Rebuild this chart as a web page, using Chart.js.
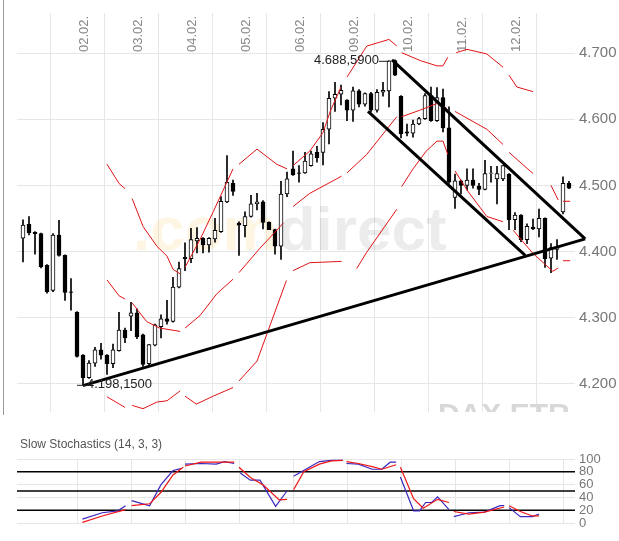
<!DOCTYPE html>
<html><head><meta charset="utf-8">
<script src="https://cdn.jsdelivr.net/npm/chart.js@4.4.1/dist/chart.umd.min.js"></script>
<style>
body{margin:0;background:#fff;width:619px;height:541px;overflow:hidden;font-family:"Liberation Sans",Arial,sans-serif}
#main{position:absolute;left:0;top:0}
#stoch{position:absolute;left:0;top:430px}
</style></head><body>
<canvas id="main" width="619" height="425"></canvas>
<canvas id="stoch" width="619" height="111"></canvas>
<script>
const dates = ['02.02.','03.02.','04.02.','05.02.','06.02.','09.02.','10.02.','11.02.','12.02.'];
const dateIdx = [9,18,27,36,45,54,63,72,81];
const priceTicks = [4200,4300,4400,4500,4600,4700];
const stochTicks = [0,20,40,60,80,100];
const stochLevels = [80,50,20];
const opens  = [4420,4441,4429,4427,4379,4341,4425,4394,4339,4308,4243,4209,4231,4251,4243,4230,4250,4281,4302,4307,4274,4230,4258,4286,4298,4294,4346,4391,4389,4416,4420,4410,4419,4430,4475,4503,4443,4439,4453,4472,4475,4444,4433,4408,4487,4525,4519,4519,4530,4550,4550,4585,4632,4638,4629,4614,4643,4623,4639,4614,4641,4643,4689,4635,4581,4579,4593,4601,4636,4598,4633,4587,4482,4507,4500,4508,4499,4494,4518,4510,4510,4517,4448,4455,4418,4437,4434,4450,4390,4403,4460,4503];
const highs  = [4448,4453,4430,4428,4380,4427,4447,4395,4359,4309,4244,4235,4255,4261,4244,4260,4308,4284,4323,4313,4275,4259,4290,4304,4326,4361,4384,4413,4435,4436,4421,4421,4450,4483,4545,4508,4445,4460,4485,4488,4477,4445,4434,4506,4520,4552,4530,4550,4552,4559,4595,4642,4656,4652,4630,4649,4645,4640,4641,4645,4656,4688.59,4690,4636,4593,4599,4603,4639,4649,4648,4646,4619,4517,4508,4525,4525,4503,4538,4529,4529,4530,4518,4459,4456,4442,4449,4464,4451,4412,4418,4513,4506];
const lows   = [4384,4425,4396,4375,4337,4339,4393,4326,4311,4240,4198.15,4208,4226,4237,4214,4224,4249,4262,4280,4268,4226,4228,4257,4269,4290,4293,4345,4371,4383,4398,4398,4399,4414,4429,4474,4485,4394,4422,4452,4463,4434,4433,4396,4388,4483,4515,4505,4518,4529,4535,4531,4563,4612,4622,4598,4597,4619,4620,4611,4611,4635,4619,4666,4572,4575,4573,4592,4600,4597,4597,4581,4503,4465,4487,4493,4496,4486,4493,4505,4472,4507,4433,4433,4415,4412,4433,4422,4376,4368,4388,4457,4495];
const closes = [4440,4428,4427,4377,4339,4425,4394,4338,4338,4241,4209,4231,4251,4243,4230,4251,4281,4269,4307,4271,4229,4259,4289,4298,4294,4346,4374,4389,4418,4420,4410,4420,4432,4476,4505,4491,4440,4453,4472,4475,4444,4433,4408,4487,4510,4516,4518,4537,4548,4542,4585,4632,4638,4644,4614,4643,4623,4639,4614,4641,4644,4688.59,4667,4578,4579,4593,4601,4636,4598,4633,4587,4505,4507,4500,4508,4500,4494,4518,4519,4518,4530,4448,4455,4418,4438,4434,4450,4389,4406,4407,4503,4496];
// Bollinger bands as [index, value], null = break between trading days
const bbUpper = [[14,4532],[16,4503],[17,4495],null,[18.2,4480],[20,4438],[22.3,4408],[24,4393],[25,4373],[26.2,4366],null,[27,4376],[29.5,4418],[31.7,4460],[35,4525],null,[36,4532],[39,4555],[42.3,4532],[44,4525],null,[45,4530],[47.8,4552],[50,4580],[51.2,4612],[53,4649],null,[54,4664],[57.3,4711],[61,4721],[62.3,4711],null,[63.1,4701],[66.2,4689],[69,4681],[70,4681],[70.8,4694],null,[72.2,4701],[74,4706],[77.3,4699],[80,4679],null,[81,4667],[82.3,4649],[85,4642]];
const bbMiddle = [[14,4357],[16,4333],[17,4328],null,[18.2,4322],[20.6,4294],[22.8,4284],[26.2,4279],null,[27,4284],[29.5,4303],[32.3,4336],[35,4358],null,[36,4368],[39.5,4405],[43.4,4443],null,[45,4468],[47.8,4488],[53.1,4514],null,[54,4519],[57.3,4547],[62.3,4604],null,[63.1,4604],[66.2,4614],[69,4624],[70.6,4617],null,[72,4612],[77.3,4585],[80,4562],null,[81,4550],[85,4518],null,[88,4500],[89.2,4478],null,[90,4476],[91.2,4476]];
const bbLower = [[14,4180],[17,4164],null,[18.2,4167],[20,4162],[22.3,4172],[24,4174],[26.2,4189],null,[27,4181],[28.9,4169],[31.7,4181],[35,4194],null,[36,4204],[39,4234],[43.9,4356],null,[45,4371],[47.8,4383],[53.1,4385],null,[55.6,4374],[57.3,4399],[62.3,4464],null,[63.1,4498],[65,4525],[67.2,4552],[69,4567],[70,4567],[70.8,4547],null,[72,4522],[74,4493],[77.3,4453],[80,4445],null,[81.7,4432],[85,4397],[88.3,4370],[89.2,4375],null,[90,4386],[91.2,4386]];
const trendSupport = [[10,4197],[93.7,4419]];
const channelTop = [[61.5,4690],[93.7,4419]];
const channelBottom = [[57.5,4612],[83.7,4394]];
const stochK = [[9.9,6],[13.2,16],[15.8,19],[17.1,27],null,[18.1,35],[21.1,27],[23,60],[25,82],[26.3,85],null,[27,92],[29.7,93],[32.2,92],[33.6,96],[35.2,93],null,[36.2,78],[37.9,67],[39.5,67],[42.1,26],[44,50],null,[45.1,73],[47.5,86],[49.4,96],[51.4,98],[53.3,98],null,[53.9,93],[55.9,92],[58.2,84],[59.8,84],[61.2,95],[62.2,95],null,[62.9,72],[65.1,19],[66.1,19],[67.1,32],[68.1,32],[69.1,41],[71,21],null,[71.8,10],[74.3,16],[76.9,17],[79.5,27],[80.2,27],null,[81,24],[82.9,10],[84.9,10],[86,14]];
const stochD = [[9.9,1],[13.2,11],[17.1,21],null,[18.1,27],[21.1,30],[23,48],[25,75],[26.7,87],null,[27,89],[29.7,95],[32.2,95],[35.2,95],null,[36,87],[37.9,71],[40.1,59],[42.7,36],[44,37],null,[45.1,52],[46.8,80],[49.4,92],[51.4,97],[53.3,98],null,[53.9,96],[55.9,93],[58.2,88],[59.8,84],[62.2,91],null,[62.9,87],[65.1,38],[66.7,23],[69.1,37],[71,32],null,[71.8,18],[74.3,14],[76.9,17],[80.2,25],null,[81,27],[82.9,18],[84.9,11],[86,11]];
const markHigh = {idx:61, value:4688.59, text:'4.688,5900'};
const markLow = {idx:10, value:4198.15, text:'4.198,1500'};

const pts = a => a.map(p => p ? {x:p[0], y:p[1]} : {x:NaN, y:null});
const fmt = v => String(v).replace(/\B(?=(\d{3})+(?!\d))/g,'.');
const RED = 'rgb(225,20,20)';
const GRID = '#e6e6e6';

const bodies = opens.map((o,i)=>({x:i, y:[o, closes[i]===o? o+1 : closes[i]]}));
const wicks = highs.map((h,i)=>({x:i, y:[lows[i], h]}));
const lineDs = (data,color,w,extra) => Object.assign({type:'line', data:pts(data), borderColor:color, borderWidth:w, pointRadius:0, spanGaps:false, tension:0}, extra||{});

const decor = {
  id:'decor',
  beforeDatasetsDraw(c){
    const {ctx, chartArea:a} = c;
    ctx.save();
    ctx.beginPath(); ctx.rect(a.left,a.top,a.right-a.left,a.bottom-a.top); ctx.clip();
    ctx.font = 'bold 62px "Liberation Sans", Arial, sans-serif';
    ctx.textBaseline = 'alphabetic';
    ctx.fillStyle = 'rgba(250,200,90,0.17)';
    ctx.fillText('.com', 133, 250);
    const w = ctx.measureText('.com').width;
    ctx.fillStyle = 'rgba(0,0,0,0.075)';
    ctx.fillText('direct', 133+w, 250);
    ctx.font = 'bold 30px "Liberation Sans", Arial, sans-serif';
    ctx.fillStyle = '#d8d8d8';
    ctx.fillText('DAX ETR', 438, 424);
    ctx.restore();
    ctx.save();
    ctx.font = '13px "Liberation Sans", Arial, sans-serif';
    ctx.fillStyle = '#888';
    const xs = c.scales.x;
    dates.forEach((d,k)=>{
      const px = xs.getPixelForValue(dateIdx[k]);
      ctx.save(); ctx.translate(px+7, 52); ctx.rotate(-Math.PI/2);
      ctx.textAlign='left'; ctx.textBaseline='middle'; ctx.fillText(d,0,0); ctx.restore();
    });
    ctx.restore();
  },
  afterDatasetsDraw(c){
    const {ctx} = c; const xs=c.scales.x, ys=c.scales.y;
    ctx.save();
    ctx.font = '13px "Liberation Sans", Arial, sans-serif';
    ctx.fillStyle = '#222'; ctx.strokeStyle='#222'; ctx.lineWidth=1; ctx.textBaseline='middle';
    let px = xs.getPixelForValue(markHigh.idx), py = ys.getPixelForValue(markHigh.value);
    ctx.beginPath(); ctx.moveTo(px-10,py+0.5); ctx.lineTo(px,py+0.5); ctx.stroke();
    ctx.textAlign='right'; ctx.fillText(markHigh.text, px-10, py);
    px = xs.getPixelForValue(markLow.idx); py = ys.getPixelForValue(markLow.value);
    ctx.beginPath(); ctx.moveTo(px-6,py+0.5); ctx.lineTo(px+6,py+0.5); ctx.stroke();
    ctx.textAlign='left'; ctx.fillText(markLow.text, px+4, py);
    ctx.strokeStyle='#999'; ctx.beginPath(); ctx.moveTo(3.5,0); ctx.lineTo(3.5,415); ctx.stroke();
    ctx.restore();
  }
};

const xCommon = {type:'linear', min:-1, max:92, offset:false,
  afterBuildTicks: s => { s.ticks = dateIdx.concat([90]).map(v=>({value:v})); },
  grid:{color:GRID, drawTicks:false}, border:{display:false}, ticks:{display:false}};

new Chart(document.getElementById('main'), {
  type:'bar',
  data:{datasets:[
    {type:'bar', data:wicks, backgroundColor:'#000', barThickness:1, grouped:false, order:5},
    {type:'bar', data:bodies, barThickness:4, grouped:false, borderSkipped:false, borderWidth:1, borderColor:'#000',
      backgroundColor: ctx => { const i=ctx.dataIndex; return closes[i]>opens[i] ? '#fff' : '#000'; }, order:4},
    lineDs(bbUpper, RED, 1, {order:3}),
    lineDs(bbMiddle, RED, 1, {order:3}),
    lineDs(bbLower, RED, 1, {order:3}),
    lineDs(trendSupport, '#000', 3, {clip:false, order:1}),
    lineDs(channelTop, '#000', 3, {clip:false, order:1}),
    lineDs(channelBottom, '#000', 3, {clip:false, order:1})
  ]},
  options:{responsive:false, animation:false, events:[],
    layout:{padding:{left:17, top:10, bottom:10, right:0}},
    plugins:{legend:{display:false}, tooltip:{enabled:false}},
    scales:{
      x: xCommon,
      y: {position:'right', min:4157, max:4761,
        afterBuildTicks: s => { s.ticks = priceTicks.map(v=>({value:v})); },
        afterFit: s => { s.width = 44; },
        grid:{color:GRID, drawTicks:false}, border:{display:false},
        ticks:{color:'#777', autoSkip:false, font:{size:15, family:'"Liberation Sans", Arial, sans-serif'}, padding:4, callback:v=>fmt(v)}}
    }},
  plugins:[decor]
});

const stochDecor = {
  id:'sd',
  beforeDraw(c){
    const ctx=c.ctx; ctx.save();
    ctx.font='12px "Liberation Sans", Arial, sans-serif'; ctx.fillStyle='#555'; ctx.textBaseline='middle';
    ctx.fillText('Slow Stochastics (14, 3, 3)', 20, 15);
    ctx.restore();
  }
};
new Chart(document.getElementById('stoch'), {
  type:'line',
  data:{datasets:[
    ...stochLevels.map(l => lineDs([[-1,l],[92,l]], '#000', 1.5, {order:3})),
    lineDs(stochK, 'rgb(60,40,190)', 1.2, {order:2}),
    lineDs(stochD, 'rgb(240,20,20)', 1.2, {order:1})
  ]},
  options:{responsive:false, animation:false, events:[],
    layout:{padding:{left:17, top:29, bottom:18, right:0}},
    plugins:{legend:{display:false}, tooltip:{enabled:false}},
    scales:{
      x: xCommon,
      y: {position:'right', min:0, max:100,
        afterBuildTicks: s => { s.ticks = stochTicks.map(v=>({value:v})); },
        afterFit: s => { s.width = 44; },
        grid:{color:GRID, drawTicks:false}, border:{display:false},
        ticks:{color:'#777', autoSkip:false, font:{size:13, family:'"Liberation Sans", Arial, sans-serif'}, padding:4}}
    }},
  plugins:[stochDecor]
});
</script></body></html>
